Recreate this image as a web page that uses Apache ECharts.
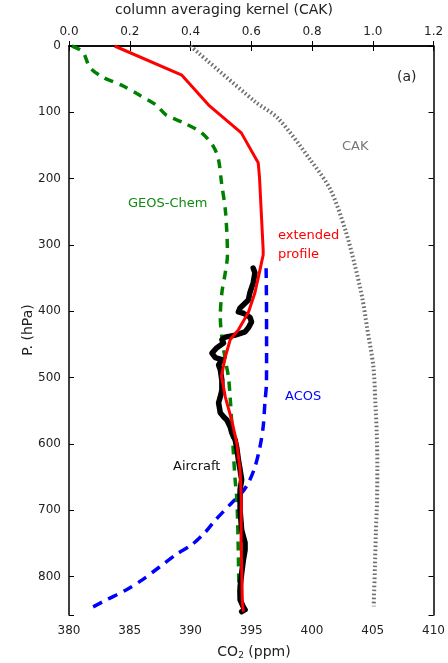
<!DOCTYPE html>
<html><head><meta charset="utf-8">
<script src="https://cdn.jsdelivr.net/npm/echarts@6/dist/echarts.min.js"></script>
<style>html,body{margin:0;padding:0;background:#fff}#c{width:448px;height:663px}</style>
</head><body><div id="c"></div>
<script>
// ---- data ----
var xTicksCO2 = [380, 385, 390, 395, 400, 405, 410];
var xTicksCAK = [0.0, 0.2, 0.4, 0.6, 0.8, 1.0, 1.2];
var yTicks = [0, 100, 200, 300, 400, 500, 600, 700, 800];

var redCO2 = [383.75, 389.29, 391.49, 394.18, 395.57, 395.68, 395.98, 395.98, 395.71, 395.30, 394.76, 393.94, 393.26, 392.86, 392.55, 392.86, 393.39, 393.80, 394.08, 394.18, 394.16, 394.27, 394.35];
var redP   = [0, 44, 89, 131, 176, 199, 308, 315, 338, 372, 402, 428, 443, 469, 498, 529, 564, 598, 639, 684, 745, 840, 853];

var geosCO2 = [380.24, 381.14, 381.71, 382.77, 384.32, 385.79, 387.17, 387.99, 389.46, 390.92, 391.90, 392.31, 392.55, 392.88, 393.04, 392.86, 392.58, 392.45, 392.58, 392.86, 393.12, 393.26, 393.39, 393.53, 393.67, 393.80, 393.88, 393.94, 393.99, 394.08];
var geosP   = [0, 9, 32, 47, 59, 74, 89, 104, 116, 131, 152, 172, 206, 250, 315, 342, 372, 409, 439, 473, 499, 529, 568, 614, 654, 680, 719, 770, 820, 842];

var acosCO2 = [396.22, 396.25, 396.26, 396.25, 396.12, 395.98, 395.71, 395.30, 394.76, 394.21, 393.39, 392.04, 391.17, 390.11, 388.80, 387.42, 386.03, 384.73, 383.10, 381.96];
var acosP   = [335, 383, 458, 508, 538, 574, 605, 635, 659, 674, 689, 715, 734, 752, 767, 786, 805, 820, 835, 846];

var airCO2 = [395.16, 395.30, 395.16, 394.89, 394.76, 394.08, 393.94, 394.35, 394.89, 395.02, 394.76, 394.49, 393.67, 392.86, 392.58, 392.72, 392.17, 391.76, 392.04, 392.58, 392.31, 392.45, 392.58, 392.58, 392.45, 392.31, 392.45, 392.72, 392.99, 393.26, 393.39, 393.67, 393.80, 393.94, 394.08, 394.21, 394.08, 394.08, 394.08, 394.21, 394.49, 394.49, 394.35, 394.21, 394.08, 394.08, 394.35, 394.49, 394.21];
var airP   = [335, 342, 357, 372, 383, 395, 401, 403, 409, 416, 425, 431, 436, 439, 443, 448, 455, 463, 470, 473, 481, 488, 504, 519, 529, 538, 553, 559, 564, 574, 583, 594, 605, 624, 639, 654, 669, 680, 700, 730, 749, 760, 775, 795, 816, 835, 846, 850, 853];

var cakVal = [0.40, 0.613, 0.688, 0.795, 0.861, 0.910, 0.939, 0.965, 0.981, 1.002, 1.008, 1.013, 1.015, 1.014, 1.010, 1.007, 1.003];
var cakP   = [0, 84, 109, 172, 217, 278, 327, 379, 424, 484, 534, 584, 635, 685, 735, 786, 845];

function pairs(xs, ys){ return xs.map(function(v,i){ return [v, ys[i]]; }); }

var FONT = 'DejaVu Sans';
var chart = echarts.init(document.getElementById('c'), null, {renderer:'canvas'});
var axLine = {show:true, lineStyle:{color:'#000', width:1.5}};
var tickIn = {show:true, inside:true, length:5, lineStyle:{color:'#000', width:1}};
chart.setOption({
  animation:false,
  backgroundColor:'#fff',
  grid:{left:69, right:11, top:46, bottom:48, show:false},
  xAxis:[
    {type:'value', position:'bottom', min:380, max:410, interval:5,
     axisLine:axLine, axisTick:tickIn, splitLine:{show:false},
     axisLabel:{color:'#222', fontFamily:FONT, fontSize:12, margin:10}},
    {type:'value', position:'top', min:0, max:1.2, interval:0.2,
     axisLine:axLine, axisTick:tickIn, splitLine:{show:false},
     axisLabel:{color:'#222', fontFamily:FONT, fontSize:12, margin:8,
       formatter:function(v){return v.toFixed(1);}}}
  ],
  yAxis:[
    {type:'value', inverse:true, min:0, max:858, interval:100, position:'left',
     axisLine:axLine, axisTick:tickIn, splitLine:{show:false},
     axisLabel:{color:'#222', fontFamily:FONT, fontSize:12, margin:8,
       formatter:function(v){return (v%100===0)?String(v):'';}}},
    {type:'value', inverse:true, min:0, max:858, interval:100, position:'right',
     axisLine:axLine, axisTick:tickIn, splitLine:{show:false},
     axisLabel:{show:false}}
  ],
  series:[
    {type:'line', name:'CAK', xAxisIndex:1, yAxisIndex:0, data:pairs(cakVal, cakP), smooth:0.3,
     showSymbol:false, lineStyle:{color:'#6e6e6e', width:4, type:[1.6,2.4]}},
    {type:'line', name:'ACOS', data:pairs(acosCO2, acosP), smooth:0.3, showSymbol:false,
     lineStyle:{color:'#0000ff', width:3.5, type:[10,7]}},
    {type:'line', name:'GEOS-Chem', data:pairs(geosCO2, geosP), smooth:0.3, showSymbol:false,
     lineStyle:{color:'#008000', width:3.5, type:[9,7]}},
    {type:'line', name:'Aircraft', data:pairs(airCO2, airP), showSymbol:false,
     lineStyle:{color:'#000', width:5.5, join:'round', cap:'round'}},
    {type:'line', name:'extended profile', data:pairs(redCO2, redP), showSymbol:false,
     lineStyle:{color:'#ff0000', width:3}}
  ],
  graphic:[
    {type:'text', left:'center', top:3, style:{text:'column averaging kernel (CAK)', font:'14px "DejaVu Sans"', fill:'#222'}, x:0},
    {type:'text', x:254, y:652, style:{text:'{a|CO}{s|2}{a| (ppm)}', textAlign:'center', textVerticalAlign:'middle',
      rich:{a:{fontFamily:FONT, fontSize:14, fill:'#222'}, s:{fontFamily:FONT, fontSize:9, fill:'#222', padding:[8,0,0,0]}}}},
    {type:'text', x:28, y:330, rotation:Math.PI/2, style:{text:'P. (hPa)', font:'14px "DejaVu Sans"', fill:'#222', textAlign:'center', textVerticalAlign:'middle'}},
    {type:'text', x:397, y:77, style:{text:'(a)', font:'14px "DejaVu Sans"', fill:'#222', textVerticalAlign:'middle'}},
    {type:'text', x:342, y:147, style:{text:'CAK', font:'13px "DejaVu Sans"', fill:'#777', textVerticalAlign:'middle'}},
    {type:'text', x:128, y:204, style:{text:'GEOS-Chem', font:'13px "DejaVu Sans"', fill:'#108a10', textVerticalAlign:'middle'}},
    {type:'text', x:278, y:236, style:{text:'extended', font:'13px "DejaVu Sans"', fill:'#ff0000', textVerticalAlign:'middle'}},
    {type:'text', x:278, y:255, style:{text:'profile', font:'13px "DejaVu Sans"', fill:'#ff0000', textVerticalAlign:'middle'}},
    {type:'text', x:285, y:397, style:{text:'ACOS', font:'13px "DejaVu Sans"', fill:'#0000ff', textVerticalAlign:'middle'}},
    {type:'text', x:173, y:467, style:{text:'Aircraft', font:'13px "DejaVu Sans"', fill:'#111', textVerticalAlign:'middle'}}
  ]
});
</script>
</body></html>
